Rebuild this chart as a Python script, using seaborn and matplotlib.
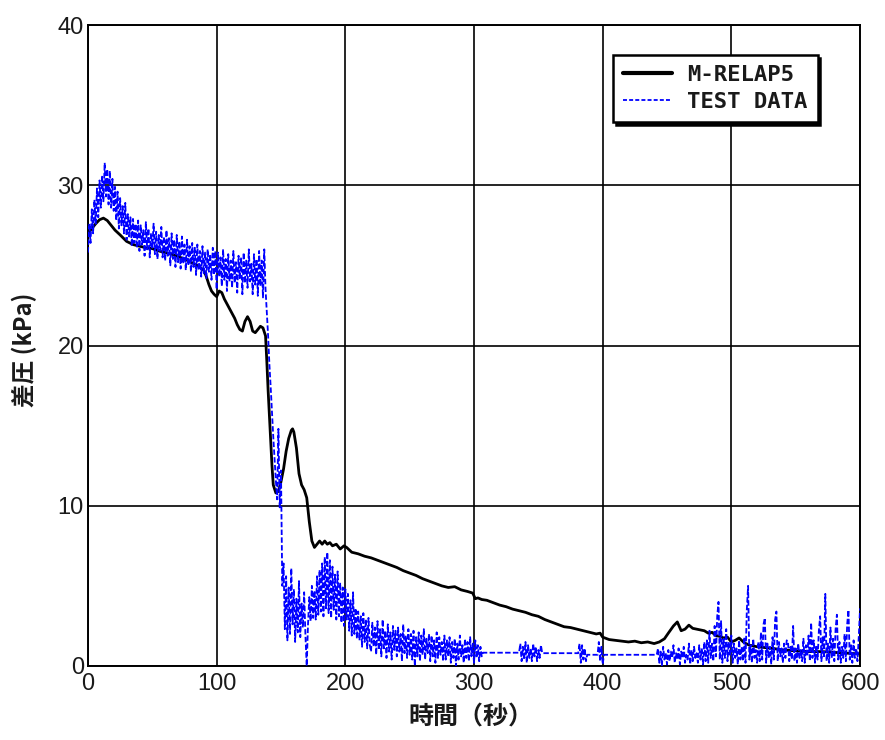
import numpy as np
import pandas as pd
import matplotlib
matplotlib.use("Agg")
import matplotlib.pyplot as plt
from matplotlib.lines import Line2D
import seaborn as sns

# ---------------- data ----------------
model_t = [0, 3, 6, 9, 12, 15, 18, 21, 25, 30, 35, 40, 45, 50, 55, 60, 65, 70, 75, 80,
           85, 90, 92, 94, 96, 98, 100, 102, 104, 106, 108, 110, 112, 114, 116, 118,
           120, 122, 124, 126, 128, 130, 132, 134, 136, 138, 139, 140, 141, 142, 143,
           144, 146, 148, 150, 152, 154, 156, 158, 159, 160, 162, 164, 166, 168, 170,
           172, 174, 176, 178, 180, 182, 184, 186, 188, 190, 193, 196, 199, 201, 205,
           210, 215, 220, 225, 230, 235, 240, 245, 250, 255, 260, 265, 270, 275, 280,
           285, 290, 295, 299, 301, 303, 306, 310, 315, 320, 325, 330, 335, 340, 345,
           350, 355, 360, 365, 370, 375, 380, 385, 390, 395, 398, 400, 405, 410, 415,
           420, 425, 430, 435, 440, 444, 448, 451, 455, 458, 461, 464, 467, 470, 473,
           476, 479, 482, 485, 488, 491, 494, 497, 500, 503, 506, 510, 514, 520, 526,
           532, 540, 550, 560, 570, 580, 590, 600]
model_p = [27.0, 27.3, 27.6, 27.85, 27.95, 27.8, 27.5, 27.2, 26.9, 26.5, 26.3, 26.2, 26.1,
           26.05, 25.9, 25.8, 25.7, 25.55, 25.4, 25.2, 25.0, 24.7, 24.3, 23.8, 23.4, 23.2,
           23.05, 23.4, 23.3, 22.9, 22.6, 22.3, 22.0, 21.7, 21.3, 21.0, 20.9, 21.5, 21.8,
           21.5, 20.9, 20.8, 21.0, 21.2, 21.1, 20.6, 19.0, 17.2, 15.6, 14.0, 12.5, 11.3,
           10.8, 10.9, 11.5, 12.3, 13.4, 14.2, 14.7, 14.8, 14.6, 13.6, 12.0, 11.3, 11.0,
           10.5, 9.0, 7.8, 7.4, 7.6, 7.8, 7.6, 7.8, 7.6, 7.7, 7.5, 7.6, 7.3, 7.5, 7.4,
           7.1, 7.0, 6.85, 6.75, 6.6, 6.45, 6.3, 6.15, 5.95, 5.8, 5.65, 5.45, 5.3, 5.15,
           5.0, 4.9, 4.95, 4.75, 4.65, 4.55, 4.2, 4.25, 4.15, 4.1, 3.95, 3.8, 3.7, 3.55,
           3.45, 3.35, 3.2, 3.1, 2.9, 2.75, 2.6, 2.45, 2.4, 2.3, 2.2, 2.1, 2.0, 2.05, 1.8,
           1.65, 1.6, 1.55, 1.5, 1.55, 1.45, 1.5, 1.4, 1.5, 1.7, 2.05, 2.5, 2.75, 2.2,
           2.3, 2.55, 2.35, 2.3, 2.25, 2.2, 2.05, 2.1, 1.9, 1.85, 1.75, 1.8, 1.5, 1.6,
           1.75, 1.45, 1.3, 1.2, 1.15, 1.1, 1.0, 0.95, 0.9, 0.9, 0.85, 0.8, 0.75]

# test data, one reading per second from t = 0 to 600 s (20 readings per row)
test_p = [
    25.8, 27.6, 26.4, 28.5, 27.0, 29.1, 27.6, 29.8, 28.0, 30.3, 28.6, 30.6, 29.0, 31.4, 29.3, 31.0, 28.8, 30.9, 28.6, 30.4,
    28.4, 29.9, 27.8, 29.6, 27.3, 29.2, 27.5, 28.7, 27.0, 28.9, 26.6, 28.2, 26.8, 28.0, 26.2, 27.9, 26.4, 27.6, 26.1, 27.8,
    25.9, 27.5, 26.3, 27.2, 25.6, 27.7, 26.0, 27.3, 25.5, 27.0, 26.1, 27.6, 25.7, 27.1, 25.4, 26.9, 25.9, 27.4, 25.5, 26.8,
    25.3, 27.2, 25.6, 26.7, 25.0, 27.0, 25.4, 26.6, 24.9, 26.9, 25.2, 26.5, 24.8, 26.8, 25.1, 26.3, 24.7, 26.6, 25.0, 26.2,
    24.6, 26.4, 24.9, 26.1, 24.4, 26.3, 24.7, 25.9, 24.3, 26.2, 24.5, 25.8, 24.2, 26.0, 24.6, 25.7, 24.1, 26.1, 24.4, 25.9,
    23.5, 25.8, 24.3, 25.5, 23.7, 26.0, 24.1, 25.4, 23.4, 25.7, 24.0, 25.3, 23.6, 25.9, 23.9, 25.2, 23.3, 25.6, 24.2, 25.5,
    23.2, 25.8, 23.9, 25.3, 23.6, 26.0, 24.0, 25.1, 23.2, 25.7, 23.8, 25.4, 23.1, 25.9, 23.7, 25.3, 23.0, 26.0, 23.5, 22.0,
    20.6, 18.8, 17.4, 15.8, 14.3, 12.9, 11.6, 10.4, 14.8, 9.9, 12.2, 5.0, 6.4, 2.3, 5.6, 1.6, 4.9, 2.0, 6.1, 2.6,
    4.8, 1.5, 4.2, 2.1, 5.3, 1.8, 3.9, 2.4, 4.6, 1.9, 0.0, 2.6, 4.3, 2.8, 5.0, 3.0, 4.7, 2.9, 5.6, 3.2,
    6.0, 3.4, 6.4, 3.1, 6.8, 3.6, 7.1, 3.3, 6.6, 3.0, 6.2, 3.5, 5.7, 2.9, 5.9, 3.1, 5.2, 2.7, 4.9, 2.5,
    4.8, 2.9, 4.5, 2.2, 4.1, 1.9, 4.6, 2.0, 3.6, 1.7, 3.4, 1.6, 3.1, 1.2, 3.3, 1.5, 2.9, 1.1, 3.0, 1.3,
    0.9, 2.7, 1.2, 2.4, 0.7, 2.8, 1.0, 2.3, 0.6, 2.9, 1.1, 2.2, 0.5, 2.6, 0.9, 2.1, 0.4, 2.5, 1.0, 2.2,
    0.6, 2.4, 0.9, 2.0, 0.3, 2.6, 0.8, 1.9, 0.5, 2.3, 0.7, 2.0, 0.4, 2.2, 0.0, 1.8, 0.6, 2.1, 0.3, 1.9,
    0.7, 2.3, 0.4, 1.7, 0.8, 2.0, 0.3, 1.9, 0.6, 1.6, 0.2, 2.1, 0.5, 1.8, 0.7, 1.5, 0.3, 1.9, 0.4, 1.6,
    0.6, 1.8, 0.2, 1.5, 0.5, 1.7, 0.0, 1.4, 0.4, 1.9, 0.6, 1.3, 0.2, 1.7, 0.5, 1.5, 0.3, 1.8, 0.6, 1.4,
    0.2, 1.6, 0.5, 1.3, 0.3, 1.2, 0.6, 0.83, 0.83, 0.83, 0.83, 0.83, 0.83, 0.83, 0.83, 0.83, 0.83, 0.83, 0.83, 0.83,
    0.83, 0.83, 0.83, 0.83, 0.83, 0.83, 0.83, 0.83, 0.83, 0.83, 0.83, 0.83, 0.83, 0.83, 0.83, 0.83, 1.4, 0.3, 1.2, 0.4,
    1.5, 0.2, 1.3, 0.5, 1.1, 0.3, 1.4, 0.6, 1.2, 0.3, 1.0, 0.5, 1.3, 0.8, 0.8, 0.8, 0.8, 0.8, 0.8, 0.8,
    0.8, 0.8, 0.8, 0.8, 0.8, 0.8, 0.8, 0.8, 0.8, 0.8, 0.8, 0.8, 0.8, 0.8, 0.8, 0.8, 0.8, 0.8, 0.8, 0.8,
    0.8, 0.8, 1.4, 0.2, 1.3, 0.4, 1.1, 0.3, 0.7, 0.7, 0.7, 0.7, 0.7, 0.7, 0.7, 0.7, 0.7, 1.5, 0.3, 1.2,
    0.1, 0.7, 0.7, 0.7, 0.7, 0.7, 0.7, 0.7, 0.7, 0.7, 0.7, 0.7, 0.7, 0.7, 0.7, 0.7, 0.7, 0.7, 0.7, 0.7,
    0.7, 0.7, 0.7, 0.7, 0.7, 0.7, 0.7, 0.7, 0.7, 0.7, 0.7, 0.7, 0.7, 0.7, 0.7, 0.7, 0.7, 0.7, 0.7, 0.7,
    0.7, 0.7, 0.7, 1.1, 0.2, 0.9, 0.0, 1.2, 0.4, 0.8, 0.1, 1.0, 0.3, 0.9, 0.5, 1.3, 0.2, 0.8, 0.4, 1.1,
    0.1, 0.9, 0.5, 1.2, 0.2, 0.7, 0.4, 1.4, 0.1, 1.0, 0.3, 1.2, 0.5, 0.8, 0.2, 1.3, 0.4, 1.1, 0.1, 1.5,
    0.3, 1.6, 0.2, 2.2, 0.5, 1.4, 0.3, 2.5, 0.6, 3.1, 4.0, 0.4, 2.8, 0.2, 1.7, 0.5, 2.3, 0.3, 1.5, 0.6,
    1.9, 0.2, 1.4, 0.5, 1.1, 0.1, 1.6, 0.4, 1.2, 0.3, 1.8, 0.2, 3.5, 5.0, 0.4, 1.3, 0.2, 1.7, 0.5, 1.0,
    0.2, 1.5, 0.3, 2.1, 0.4, 2.6, 3.0, 0.2, 1.4, 0.5, 1.2, 0.1, 1.8, 0.4, 2.9, 3.4, 0.3, 1.5, 0.6, 1.1,
    0.2, 1.4, 0.5, 1.6, 1.5, 0.3, 1.2, 0.4, 2.5, 0.3, 1.1, 0.2, 1.4, 0.5, 1.0, 0.3, 1.7, 0.2, 1.3, 0.6,
    1.9, 0.3, 2.7, 0.5, 1.6, 0.2, 1.3, 0.4, 2.2, 3.1, 0.3, 1.8, 0.5, 4.5, 0.3, 1.4, 0.2, 2.4, 0.5, 1.7,
    0.3, 2.3, 3.2, 0.4, 1.5, 0.2, 1.2, 0.5, 2.0, 0.3, 2.6, 3.5, 0.4, 1.3, 0.2, 1.6, 0.5, 1.1, 0.3, 1.8,
    3.6]
test_t = list(range(0, len(test_p)))

series_names = ["M-RELAP5", "TEST DATA"]
x_ticks = [0, 100, 200, 300, 400, 500, 600]
y_ticks = [0, 10, 20, 30, 40]
x_label = "時間（秒）"
y_label = "差圧 (kPa)"

# ---------------- plot ----------------
sns.set_theme(style="white")
plt.rcParams["font.family"] = ["Liberation Sans", "Noto Sans CJK JP", "DejaVu Sans"]

fig = plt.figure(figsize=(8.85, 7.4), dpi=100)
ax = fig.add_axes([0.0994, 0.1, 0.8724, 0.8662])

df_model = pd.DataFrame({"t": model_t, "p": model_p})
df_test = pd.DataFrame({"t": test_t, "p": test_p})

blue_dash = (0, (3.0, 1.3))
sns.lineplot(data=df_model, x="t", y="p", ax=ax, color="black", linewidth=2.0,
             sort=False, estimator=None, zorder=3)
sns.lineplot(data=df_test, x="t", y="p", ax=ax, color="#0000ff", linewidth=1.3,
             sort=False, estimator=None, zorder=4, linestyle=blue_dash)

ax.set_xlim(0, 600)
ax.set_ylim(0, 40)
ax.set_xticks(x_ticks)
ax.set_yticks(y_ticks)
ax.set_xticklabels([str(v) for v in x_ticks])
ax.set_yticklabels([str(v) for v in y_ticks])
ax.tick_params(axis="both", length=0, colors="#1a1a1a", labelsize=17)
ax.tick_params(axis="x", pad=5)
ax.tick_params(axis="y", pad=3)

ax.grid(True, color="black", linewidth=1.2)
ax.set_axisbelow(True)
for s in ax.spines.values():
    s.set_color("black")
    s.set_linewidth(1.4)

ax.set_xlabel(x_label, fontsize=18, fontweight="bold",
              family=["Noto Sans CJK JP", "DejaVu Sans"], color="#1a1a1a")
ax.set_ylabel(y_label, fontsize=17, fontweight="bold",
              family=["Noto Sans CJK JP", "DejaVu Sans"], color="#1a1a1a")
ax.xaxis.set_label_coords(0.496, -0.062)
ax.yaxis.set_label_coords(-0.066, 0.494)

handles = [Line2D([], [], color="black", linewidth=3.0),
           Line2D([], [], color="#0000ff", linewidth=1.3, linestyle=(0, (2.2, 1.2)))]
leg = ax.legend(handles, series_names, loc="upper right",
                bbox_to_anchor=(0.945, 0.953), borderaxespad=0,
                prop={"family": "DejaVu Sans Mono", "weight": "bold", "size": 16},
                frameon=True, fancybox=False, edgecolor="black",
                shadow={"color": "black", "alpha": 1.0, "ox": 2, "oy": -2},
                handlelength=2.2, handletextpad=0.7, labelspacing=0.3,
                borderpad=0.45)
leg.get_frame().set_linewidth(1.8)
leg.get_frame().set_facecolor("white")
for txt in leg.get_texts():
    txt.set_color("#1a1a1a")
leg.set_zorder(10)

fig.savefig("out.png", dpi=100)
